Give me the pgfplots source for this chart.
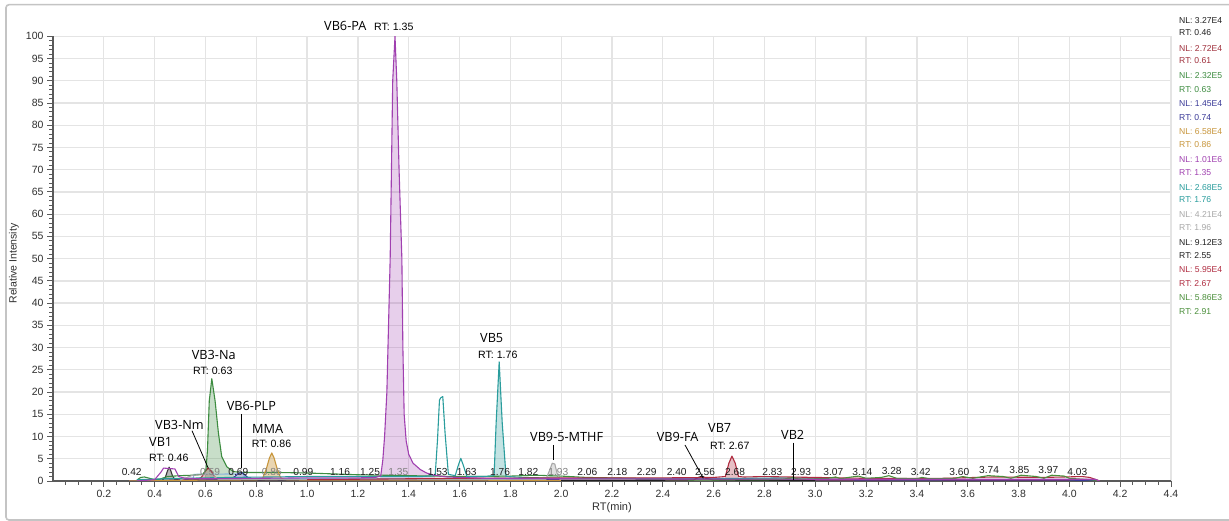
\documentclass[border=0pt]{standalone}
\usepackage{fontspec}
\setmainfont{Liberation Sans}
\newfontfamily\annfont{Open Sans}
\usepackage{pgfplots}
\pgfplotsset{compat=1.18}
\definecolor{cBlack}{HTML}{383838}
\definecolor{cRed}{HTML}{A0303C}
\definecolor{cGreen}{HTML}{3D8C40}
\definecolor{cNavy}{HTML}{3A3A98}
\definecolor{cTan}{HTML}{C8963C}
\definecolor{cPurple}{HTML}{A040B0}
\definecolor{cTeal}{HTML}{2A9D9D}
\definecolor{cGray}{HTML}{A8A8A8}
\definecolor{cBlack2}{HTML}{202020}
\definecolor{cRed2}{HTML}{B02C40}
\definecolor{cGreen2}{HTML}{4A8F3A}
\definecolor{cLBlue}{HTML}{8AB4DC}
\definecolor{gridgray}{HTML}{E4E4E4}
\definecolor{axisgray}{HTML}{5A5A5A}
\definecolor{bordergray}{HTML}{C4C4C4}
\definecolor{tickgray}{HTML}{303030}
\begin{document}
\begin{tikzpicture}[x=1pt,y=1pt]
\useasboundingbox (0,0) rectangle (1229,521);
\fill[white] (0,0) rectangle (1229,521);
\draw[bordergray, line width=1.6pt, rounded corners=3pt] (6,1) rectangle (1245,516.3);
\begin{axis}[
  at={(53pt,40pt)}, anchor=south west,
  width=1118pt, height=444.7pt, scale only axis,
  xmin=0, xmax=4.4, ymin=0, ymax=100,
  axis x line*=bottom, axis y line*=left,
  axis line style={-, draw=axisgray, line width=1.2pt},
  tick align=outside,
  major tick length=6pt, minor tick length=4pt,
  tick style={draw=axisgray, line width=0.9pt},
  xtick={0.2,0.4,0.6,0.8,1.0,1.2,1.4,1.6,1.8,2.0,2.2,2.4,2.6,2.8,3.0,3.2,3.4,3.6,3.8,4.0,4.2,4.4},
  minor xtick={0.05,0.1,...,4.4},
  ytick={0,5,...,100},
  minor ytick={0,1,...,100},
  grid=major,
  major grid style={draw=gridgray, line width=1.3pt},
  /pgf/number format/assume math mode=true,
  xticklabel style={/pgf/number format/.cd, fixed, fixed zerofill, precision=1},
  ticklabel style={font=\fontsize{10.5}{12}\selectfont, text=tickgray},
  every axis plot/.append style={line join=round, line width=1.1pt},
]
% ---------- fills ----------
\addplot[draw=none, fill=cBlack, fill opacity=0.35] coordinates {(0.435,0) (0.442,0.8) (0.45,2.2) (0.457,3.1) (0.463,2.4) (0.47,1.2) (0.48,0.3) (0.485,0)} \closedcycle;
\addplot[draw=none, fill=cRed, fill opacity=0.3] coordinates {(0.575,0) (0.585,0.9) (0.597,2.0) (0.61,2.9) (0.622,2.3) (0.635,1.0) (0.65,0.4) (0.655,0)} \closedcycle;
\addplot[draw=none, fill=cGreen, fill opacity=0.28] coordinates {(0.595,0) (0.602,2.5) (0.608,7) (0.615,18) (0.625,23) (0.638,18) (0.651,10.8) (0.664,5.5) (0.684,3.2) (0.71,2.1) (0.715,0)} \closedcycle;
\addplot[draw=none, fill=cNavy, fill opacity=0.3] coordinates {(0.70,0) (0.715,1.0) (0.73,1.7) (0.743,1.9) (0.755,1.4) (0.77,0.6) (0.78,0)} \closedcycle;
\addplot[draw=none, fill=cTan, fill opacity=0.4] coordinates {(0.82,0) (0.825,0.6) (0.84,2.8) (0.852,5.2) (0.861,6.3) (0.87,5.2) (0.882,2.8) (0.895,0.8) (0.90,0)} \closedcycle;
\addplot[draw=none, fill=cPurple, fill opacity=0.25] coordinates {(1.285,0) (1.29,1.2) (1.298,4.7) (1.305,10) (1.314,20) (1.327,50) (1.337,90) (1.346,100) (1.353,90) (1.362,70) (1.373,50) (1.377,30) (1.382,15) (1.39,9) (1.40,6) (1.417,4.0) (1.445,2.6) (1.47,1.8) (1.50,1.3) (1.505,0)} \closedcycle;
\addplot[draw=none, fill=cTeal, fill opacity=0.28] coordinates {(1.734,0) (1.736,1.2) (1.744,13) (1.756,26.8) (1.768,13) (1.783,1.0) (1.785,0)} \closedcycle;
\addplot[draw=none, fill=cGray, fill opacity=0.35] coordinates {(1.94,0) (1.955,2.5) (1.965,4.0) (1.975,3.8) (1.985,1.5) (1.995,0.4) (2.0,0)} \closedcycle;
\addplot[draw=none, fill=cRed2, fill opacity=0.3] coordinates {(2.64,0) (2.646,1.0) (2.66,4) (2.672,5.6) (2.685,4) (2.698,1.0) (2.70,0)} \closedcycle;
\addplot[draw=none, fill=cTeal, fill opacity=0.28] coordinates {(2.88,0) (2.90,0.7) (3.0,0.7) (3.05,0.4) (3.06,0)} \closedcycle;
% ---------- traces ----------
% NL 3.27E4 RT 0.46 (VB1)
\addplot[cBlack] coordinates {(0.30,0) (0.40,0.15) (0.43,0.2) (0.442,0.8) (0.45,2.2) (0.457,3.1) (0.463,2.4) (0.47,1.2) (0.48,0.3) (0.52,0.2) (0.6,0.2) (0.8,0.2) (1.0,0.15) (1.5,0.15) (2.0,0.1)};
% NL 2.72E4 RT 0.61 (VB3-Nm)
\addplot[cRed] coordinates {(0.30,0) (0.5,0.2) (0.57,0.3) (0.585,0.9) (0.597,2.0) (0.61,2.9) (0.622,2.3) (0.635,1.0) (0.65,0.4) (0.7,0.3) (1.0,0.3) (1.5,0.3) (2.0,0.25) (2.5,0.2) (3.0,0.2) (3.5,0.15) (4.0,0.1)};
% light blue
\addplot[cLBlue] coordinates {(0.55,0.3) (0.555,1.5) (0.75,1.6) (0.755,0.6) (1.0,0.5) (1.6,0.5) (1.7,0.4)};
% NL 2.32E5 RT 0.63 (VB3-Na)
\addplot[cGreen] coordinates {(0.33,0.2) (0.345,0.8) (0.36,0.9) (0.38,0.6) (0.40,0.3) (0.42,0.4) (0.45,1.0) (0.50,1.2) (0.55,1.3) (0.59,1.5) (0.602,2.5) (0.608,7) (0.615,18) (0.625,23) (0.638,18) (0.651,10.8) (0.664,5.5) (0.684,3.2) (0.71,2.1) (0.75,1.9) (0.8,1.9) (0.9,1.9) (1.0,1.8) (1.1,1.6) (1.2,1.4) (1.3,1.3) (1.4,1.2) (1.5,1.1) (1.6,1.0) (1.8,1.1) (1.9,1.3) (2.0,1.1) (2.1,0.8) (2.3,0.6) (2.6,0.5) (3.0,0.4)};
% NL 1.45E4 RT 0.74 (VB6-PLP)
\addplot[cNavy] coordinates {(0.30,0) (0.5,0.2) (0.65,0.3) (0.70,0.4) (0.715,1.0) (0.73,1.7) (0.743,1.9) (0.755,1.4) (0.77,0.6) (0.80,0.3) (1.0,0.3) (1.5,0.3) (2.0,0.3) (2.5,0.3) (3.0,0.25) (3.5,0.2) (4.0,0.2) (4.1,0.1)};
% NL 6.58E4 RT 0.86 (MMA)
\addplot[cTan] coordinates {(0.30,0) (0.6,0.2) (0.80,0.25) (0.825,0.6) (0.84,2.8) (0.852,5.2) (0.861,6.3) (0.87,5.2) (0.882,2.8) (0.895,0.8) (0.91,0.3) (1.0,0.2) (1.5,0.2) (2.0,0.15) (2.5,0.1)};
% NL 2.68E5 RT 1.76 (VB5)
\addplot[cTeal] coordinates {(0.33,0.3) (0.5,0.6) (0.7,0.8) (1.0,1.0) (1.3,1.0) (1.45,1.0) (1.504,1.2) (1.513,9) (1.521,18.2) (1.526,18.7) (1.534,19) (1.543,10.8) (1.556,1.5) (1.583,1.2) (1.595,3.5) (1.605,5.1) (1.615,3.5) (1.629,1.0) (1.70,1.0) (1.736,1.2) (1.744,13) (1.756,26.8) (1.768,13) (1.783,1.0) (1.85,0.8) (2.0,0.6) (2.5,0.5) (2.9,0.7) (3.0,0.7) (3.05,0.4) (3.5,0.3)};
% NL 4.21E4 RT 1.96 (VB9-5-MTHF)
\addplot[cGray] coordinates {(0.5,0.2) (0.55,1.3) (0.62,1.5) (0.65,0.4) (1.0,0.3) (1.5,0.3) (1.94,0.4) (1.955,2.5) (1.965,4.0) (1.975,3.8) (1.985,1.5) (1.995,0.4) (2.2,0.3) (2.5,0.2) (3.0,0.2)};
% NL 9.12E3 RT 2.55 (VB9-FA)
\addplot[cBlack2] coordinates {(2.0,0.1) (2.52,0.2) (2.54,0.8) (2.555,1.1) (2.57,0.6) (2.6,0.2) (3.0,0.1)};
% NL 5.95E4 RT 2.67 (VB7)
\addplot[cRed2] coordinates {(1.0,0.3) (1.4,0.5) (1.6,0.6) (2.0,0.7) (2.4,0.7) (2.6,0.8) (2.646,1.0) (2.66,4) (2.672,5.6) (2.685,4) (2.698,1.0) (2.72,0.9) (2.8,1.0) (3.0,0.8) (3.2,0.6) (3.5,0.6) (3.7,0.9) (3.9,0.8) (4.05,1.0) (4.08,0.8) (4.12,0)};
% NL 5.86E3 RT 2.91 (VB2)
\addplot[cGreen2] coordinates {(2.5,0.2) (2.85,0.3) (2.9,0.6) (2.91,0.8) (2.93,0.5) (2.95,0.4) (3.05,0.6) (3.08,0.9) (3.1,0.5) (3.13,0.8) (3.17,1.1) (3.2,0.6) (3.26,0.8) (3.29,1.2) (3.32,0.6) (3.4,0.5) (3.42,0.8) (3.45,0.5) (3.55,0.6) (3.58,1.0) (3.62,0.6) (3.68,1.2) (3.74,1.0) (3.77,0.6) (3.81,1.3) (3.87,1.0) (3.9,0.6) (3.93,1.3) (3.98,1.1) (4.0,0.6) (4.1,0.2) (4.12,0)};
% NL 1.01E6 RT 1.35 (VB6-PA)
\addplot[cPurple] coordinates {(0.33,0) (0.40,0.3) (0.425,2.0) (0.435,2.9) (0.46,2.8) (0.48,2.7) (0.495,1.0) (0.52,0.6) (0.6,0.5) (0.8,0.6) (1.0,0.7) (1.2,0.7) (1.27,0.8) (1.29,1.2) (1.298,4.7) (1.305,10) (1.314,20) (1.327,50) (1.337,90) (1.346,100) (1.353,90) (1.362,70) (1.373,50) (1.377,30) (1.382,15) (1.39,9) (1.40,6) (1.417,4.0) (1.445,2.6) (1.47,1.8) (1.50,1.3) (1.55,0.9) (1.7,0.6) (2.0,0.5) (3.0,0.4) (4.1,0.4) (4.12,0)};
\end{axis}
% ---------- axis titles ----------
\node[rotate=90, font=\fontsize{10.5}{12}\selectfont, text=tickgray] at (14,257.5) {Relative Intensity};
\node[font=\fontsize{11}{13}\selectfont, text=tickgray] at (612,13) {RT(min)};
% ---------- peak annotations ----------
\def\ann{\annfont\fontsize{12.7}{14}\selectfont}
\def\rtf{\fontsize{10.6}{12}\selectfont}
\node[anchor=base west, inner sep=0, font=\ann] at (324,490.3) {VB6-PA};
\node[anchor=base west, inner sep=0, font=\rtf] at (374,490.3) {RT: 1.35};
\node[anchor=base west, inner sep=0, font=\ann] at (191.7,161) {VB3-Na};
\node[anchor=base west, inner sep=0, font=\rtf] at (193,146.7) {RT: 0.63};
\node[anchor=base west, inner sep=0, font=\ann] at (226.7,110.3) {VB6-PLP};
\node[anchor=base west, inner sep=0, font=\ann] at (155,91.7) {VB3-Nm};
\node[anchor=base west, inner sep=0, font=\ann] at (149,74.3) {VB1};
\node[anchor=base west, inner sep=0, font=\rtf] at (149,59.7) {RT: 0.46};
\node[anchor=base west, inner sep=0, font=\ann] at (252,87) {MMA};
\node[anchor=base west, inner sep=0, font=\rtf] at (251.7,73.7) {RT: 0.86};
\node[anchor=base west, inner sep=0, font=\ann] at (480,178.3) {VB5};
\node[anchor=base west, inner sep=0, font=\rtf] at (478,162.7) {RT: 1.76};
\node[anchor=base west, inner sep=0, font=\ann] at (530,79.3) {VB9-5-MTHF};
\node[anchor=base west, inner sep=0, font=\ann] at (656.7,79.3) {VB9-FA};
\node[anchor=base west, inner sep=0, font=\ann] at (708,88.3) {VB7};
\node[anchor=base west, inner sep=0, font=\rtf] at (710,71.7) {RT: 2.67};
\node[anchor=base west, inner sep=0, font=\ann] at (781,81) {VB2};
\draw[black, line width=0.8pt] (241.7,107) -- (241.7,53);
\draw[black, line width=0.8pt] (192,90.3) -- (208.3,52.7);
\draw[black, line width=0.8pt] (553.3,76) -- (553.3,61);
\draw[black, line width=0.8pt] (685,76) -- (703.3,42.7);
\draw[black, line width=0.8pt] (793.3,78.3) -- (793.3,41);
% ---------- baseline peak labels ----------
\begin{scope}[every node/.style={font=\fontsize{10.2}{12}\selectfont, text=cBlack2, inner sep=0}]
\node at (131.7,49.3) {0.42};
\node[text=gray] at (210,49.3) {0.59};
\node at (238.3,49.3) {0.69};
\node[text=gray] at (271.7,49.3) {0.86};
\node at (303.3,49.3) {0.99};
\node at (340,49.3) {1.16};
\node at (370,49.3) {1.25};
\node[text=gray] at (398.3,49.3) {1.35};
\node at (437.7,49.3) {1.53};
\node at (466.7,49.3) {1.63};
\node at (500,49.3) {1.76};
\node at (528.3,49.3) {1.82};
\node[text=gray] at (558.3,49.3) {1.93};
\node at (587.3,49.3) {2.06};
\node at (617.3,49.3) {2.18};
\node at (646.7,49.3) {2.29};
\node at (676.7,49.3) {2.40};
\node at (705,49.3) {2.56};
\node at (735,49.3) {2.68};
\node at (772.3,49.3) {2.83};
\node at (801,49.3) {2.93};
\node at (833.3,49.3) {3.07};
\node at (862.3,49.3) {3.14};
\node at (891.7,50.0) {3.28};
\node at (920.7,49.3) {3.42};
\node at (959.3,49.3) {3.60};
\node at (989,51) {3.74};
\node at (1019.3,51) {3.85};
\node at (1048.3,51) {3.97};
\node at (1077.3,49) {4.03};
\end{scope}
% ---------- right-hand NL / RT list ----------
\begin{scope}[every node/.style={font=\fontsize{8.6}{10}\selectfont, anchor=west, inner sep=0}]
\node[text=cBlack2] at (1179,500.3) {NL: 3.27E4};
\node[text=cBlack2] at (1179,488) {RT: 0.46};
\node[text=cRed] at (1179,472.7) {NL: 2.72E4};
\node[text=cRed] at (1179,460) {RT: 0.61};
\node[text=cGreen] at (1179,445) {NL: 2.32E5};
\node[text=cGreen] at (1179,431.7) {RT: 0.63};
\node[text=cNavy] at (1179,417) {NL: 1.45E4};
\node[text=cNavy] at (1179,403.7) {RT: 0.74};
\node[text=cTan] at (1179,389.3) {NL: 6.58E4};
\node[text=cTan] at (1179,376) {RT: 0.86};
\node[text=cPurple] at (1179,361.7) {NL: 1.01E6};
\node[text=cPurple] at (1179,348.3) {RT: 1.35};
\node[text=cTeal] at (1179,333.7) {NL: 2.68E5};
\node[text=cTeal] at (1179,321) {RT: 1.76};
\node[text=cGray] at (1179,306.7) {NL: 4.21E4};
\node[text=cGray] at (1179,293.3) {RT: 1.96};
\node[text=cBlack2] at (1179,278.7) {NL: 9.12E3};
\node[text=cBlack2] at (1179,265.3) {RT: 2.55};
\node[text=cRed2] at (1179,251) {NL: 5.95E4};
\node[text=cRed2] at (1179,237.7) {RT: 2.67};
\node[text=cGreen2] at (1179,223.3) {NL: 5.86E3};
\node[text=cGreen2] at (1179,209.3) {RT: 2.91};
\end{scope}
\end{tikzpicture}
\end{document}
